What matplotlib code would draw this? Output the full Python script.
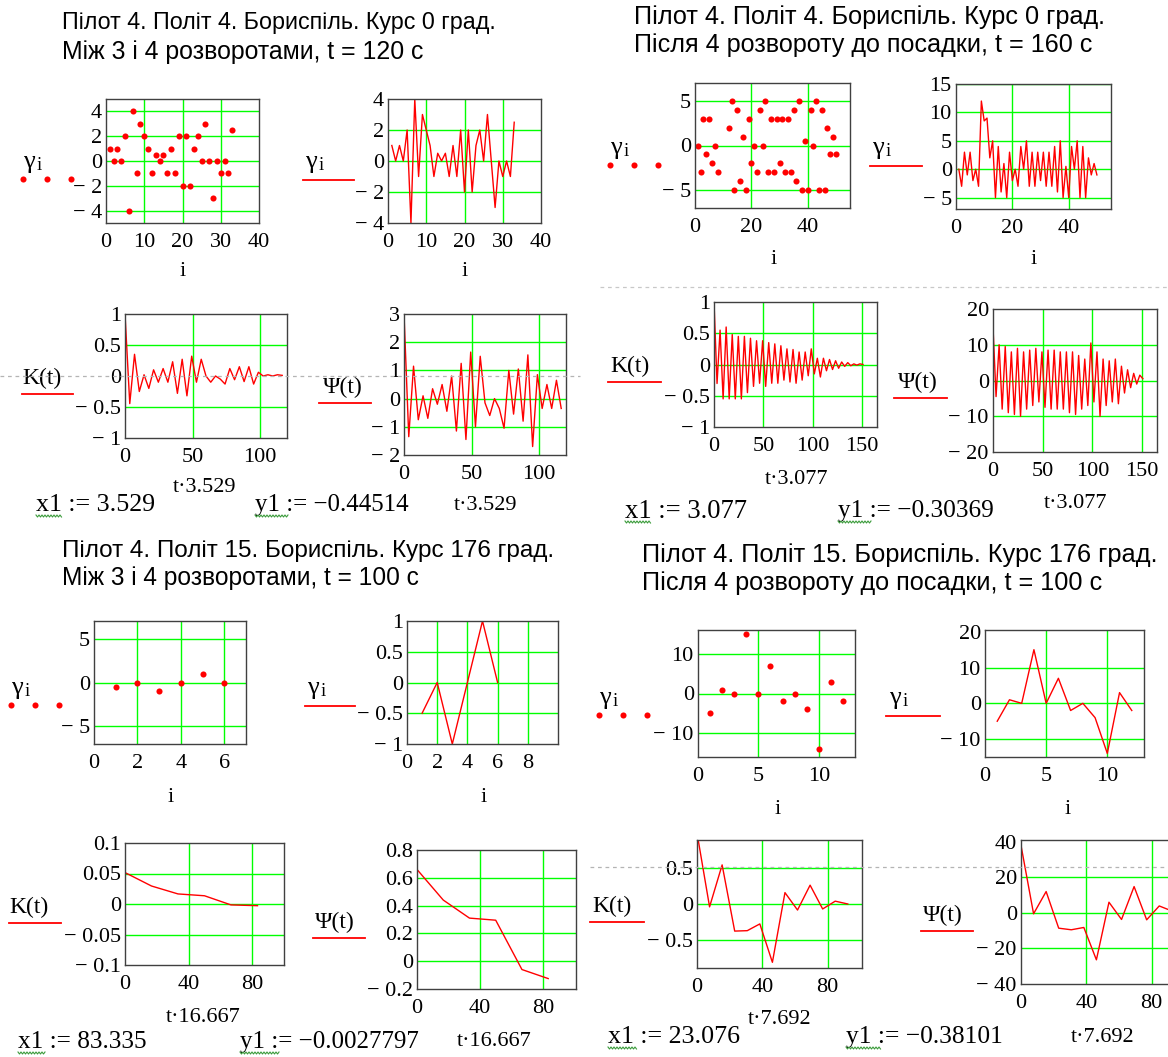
import matplotlib
matplotlib.use("Agg")
import matplotlib.pyplot as plt
from matplotlib.lines import Line2D
import numpy as np

# ---------------- data ----------------
# flight 4, heading 0, between 3rd and 4th turn
gamma_a = [1, 0, 1, 0, 2, -4, 4, -1, 3, 2, 1, -1, 0.5, 0, 0.5, -1, 1, -1, 2, -2,
           2, -2, 1, 2, 0, 3, 0, -3, 0, -1, 0, -1, 2.5]
step_a = 3.529
K_a = [1.0, -0.44514, 0.35, -0.25, 0.02, -0.2, 0.1, -0.1, 0.12, -0.1, 0.23, -0.28,
       0.27, -0.32, 0.32, -0.1, 0.27, 0.0, -0.1, 0.0, -0.05, -0.13, 0.12, -0.06,
       0.15, -0.09, 0.15, -0.13, 0.06, 0.0, 0.02, 0.0, 0.02, 0.01]
Psi_a = [3.0, -1.35, 1.15, -0.75, 0.1, -0.7, 0.35, -0.2, 0.5, -0.45, 0.8, -1.15,
         1.25, -1.45, 1.65, -1.0, 1.5, -0.15, -0.6, 0.0, -0.35, -1.05, 1.0, -0.55,
         1.05, -0.8, 1.55, -1.7, 0.85, -0.35, 0.5, -0.35, 0.65, -0.35]

# flight 4, heading 0, after 4th turn to landing
gamma_b = [0, -3, 3, -1, 3, -2, 0, -3, 12, 8.5, 9, 2, 5, -5, 4, -4, 1, -5, 3, -2,
           0, -3, 4, 0, 5, -3, 3, -3, 3, -2, 3, -3, 3, -3, 4, -4, 5, -5, 0.5, -5,
           4, 0, 5, -5, 4, -5, 2, -1, 1, -1]
step_b = 3.077
K_b = [1.0, -0.30369, 0.55, -0.55, 0.60, -0.55, 0.48, -0.55, 0.45, -0.55,
       0.45, -0.45, 0.42, -0.35, 0.38, -0.30, 0.38, -0.35, 0.35, -0.30,
       0.33, -0.30, 0.30, -0.25, 0.25, -0.28, 0.24, -0.30, 0.20, -0.25,
       0.20, -0.18, 0.25, -0.15, 0.10, -0.20, 0.10, -0.10, 0.08, -0.08,
       0.06, -0.06, 0.04, -0.03, 0.03, -0.02, 0.01, -0.01, 0.01, 0.0]
Psi_b = [15, -4.5, 10, -8, 9.5, -9, 8, -9.5, 9, -10,
         8, -8, 8.5, -7, 9, -6, 8, -7.5, 8.5, -8,
         8.5, -8, 8, -8, 8, -9, 8, -9.5, 7, -8,
         6, -7, 10.5, -6, 8, -10, 6, -7, 5.5, -6,
         6, -6.5, 4, -3.5, 3, -2, 2, -1, 1.5, 0.5]

# flight 15, heading 176, between 3rd and 4th turn
gamma_c = [-0.5, 0, -1, 0, 1, 0]
step_c = 16.667
K_c = [0.0515, 0.0295, 0.0165, 0.0135, -0.0015, -0.0027797]
Psi_c = [0.66, 0.44, 0.31, 0.295, -0.06, -0.125]

# flight 15, heading 176, after 4th turn to landing
gamma_d = [-5, 1, 0, 15, 0, 7, -2, 0, -4, -14, 3, -2]
step_d = 7.692
K_d = [1.0, -0.04, 0.55, -0.38101, -0.375, -0.28, -0.82, 0.16, -0.085, 0.265,
       -0.07, 0.04, 0.0]
Psi_d = [38, -0.5, 12, -8.6, -9.5, -8.2, -26.4, 6, -3.7, 14.8, -3.9, 3.9, 1.1]

titles = [
    ("Пілот 4. Політ 4. Бориспіль. Курс 0 град.", "Між 3 і 4 розворотами, t = 120 с"),
    ("Пілот 4. Політ 4. Бориспіль. Курс 0 град.", "Після 4 розвороту до посадки, t = 160 с"),
    ("Пілот 4. Політ 15. Бориспіль. Курс 176 град.", "Між 3 і 4 розворотами, t = 100 с"),
    ("Пілот 4. Політ 15. Бориспіль. Курс 176 град.", "Після 4 розвороту до посадки, t = 100 с"),
]
x1_vals = ["3.529", "3.077", "83.335", "23.076"]
y1_vals = ["\u22120.44514", "\u22120.30369", "\u22120.0027797", "\u22120.38101"]

# ---------------- figure ----------------
W, H, DPI = 1168, 1057, 100
fig = plt.figure(figsize=(W / DPI, H / DPI), dpi=DPI)
fig.patch.set_facecolor("white")

SERIF = "Liberation Serif"
SANS = "Liberation Sans"
RED = "#ff0000"
GREEN = "#00ff00"
FRAME = "#404040"
TICK_FS = 16


def fx(x):
    return x / W


def fy(y):
    return 1 - y / H


def fmt(v):
    s = "%g" % abs(v)
    return ("\u2212 " + s) if v < 0 else s


def panel(box, xlim, ylim, xticks, yticks, xgrid, ygrid):
    x0, y0, x1, y1 = box
    ax = fig.add_axes([x0 / W, 1 - y1 / H, (x1 - x0) / W, (y1 - y0) / H])
    ax.set_xlim(*xlim)
    ax.set_ylim(*ylim)
    ax.set_xticks(xticks)
    ax.set_xticklabels([fmt(v) for v in xticks], family=SERIF, size=TICK_FS)
    ax.set_yticks(yticks)
    ax.set_yticklabels([fmt(v) for v in yticks], family=SERIF, size=TICK_FS)
    ax.tick_params(axis="x", length=0, pad=7)
    ax.tick_params(axis="y", length=0, pad=3)
    for g in xgrid:
        ax.axvline(g, color=GREEN, lw=1.0, zorder=1)
    for g in ygrid:
        ax.axhline(g, color=GREEN, lw=1.0, zorder=1)
    for s in ax.spines.values():
        s.set_color(FRAME)
        s.set_linewidth(1.0)
        s.set_zorder(3)
    return ax


def scatter_panel(box, data, xlim, ylim, xticks, yticks, xgrid, ygrid):
    ax = panel(box, xlim, ylim, xticks, yticks, xgrid, ygrid)
    i = np.arange(1, len(data) + 1)
    ax.plot(i, data, "o", color=RED, ms=4.4, mec="none", zorder=2)
    return ax


def line_panel(box, data, xlim, ylim, xticks, yticks, xgrid, ygrid, step=None):
    ax = panel(box, xlim, ylim, xticks, yticks, xgrid, ygrid)
    if step is None:
        x = np.arange(1, len(data) + 1)
    else:
        x = np.arange(len(data)) * step
    ax.plot(x, data, "-", color=RED, lw=1.0, zorder=2)
    return ax


def text(x, y, s, size=16, family=SERIF, ha="left", va="center", color="black"):
    return fig.text(fx(x), fy(y), s, family=family, size=size, ha=ha, va=va, color=color)


def hline(x0, x1, y, color=RED, lw=1.3, ls="-", z=5):
    fig.add_artist(Line2D([fx(x0), fx(x1)], [fy(y), fy(y)], color=color, lw=lw,
                          ls=ls, zorder=z))


def gamma_glyph(x, base):
    text(x, base, "\u03b3", size=19, va="baseline")
    text(x + 14, base + 2, "i", size=13.5, va="baseline")


def gamma_scatter_label(x, base):
    gamma_glyph(x, base)
    for dx in (0, 24, 48):
        fig.add_artist(Line2D([fx(x + dx)], [fy(base + 11)], marker="o", ms=4.4,
                              color=RED, mec="none", zorder=5))


def gamma_line_label(x, base, x0, x1):
    gamma_glyph(x, base)
    hline(x0, x1, base + 12)


def func_label(x, base, s, x0, x1):
    text(x, base, s, size=17, va="baseline")
    hline(x0, x1, base + 10)


def wavy(x0, x1, y):
    xs = np.arange(x0, x1 + 0.1, 1.5)
    ys = y + np.where(np.arange(len(xs)) % 2 == 0, -1.0, 1.0)
    fig.add_artist(Line2D(fx(xs), fy(ys), color="#3c9c3c", lw=0.8, zorder=5))


renderer = fig.canvas.get_renderer()


def fit(t, target):
    w = t.get_window_extent(renderer).width
    t.set_fontsize(t.get_fontsize() * target / w)


def assign(x, y, name, val, target):
    t = text(x, y, name + " := " + val, size=17)
    fit(t, target)
    wavy(x, x + 0.22 * target, y + 11)


# ---------------- titles ----------------
title_pos = [((62, 22, 435), (62, 52, 362)),
             ((634, 17, 471), (634, 45, 458)),
             ((62, 551, 494), (62, 578, 358)),
             ((642, 555, 516), (642, 583, 460))]
for (l1, l2), ((xa, ya, wa), (xb, yb, wb)) in zip(titles, title_pos):
    fit(text(xa, ya, l1, size=15, family=SANS), wa)
    fit(text(xb, yb, l2, size=15, family=SANS), wb)

# ---------------- block A ----------------
scatter_panel((106, 99, 259, 223), gamma_a, (0, 40), (-5, 5), [0, 10, 20, 30, 40],
              [4, 2, 0, -2, -4], [10, 20, 30], [-4, -2, 0, 2, 4])
line_panel((388, 99, 541, 223), gamma_a, (0, 40), (-4, 4), [0, 10, 20, 30, 40],
           [4, 2, 0, -2, -4], [10, 20, 30], [-2, 0, 2])
gamma_scatter_label(23, 168)
gamma_line_label(305, 168, 303, 354)
text(183, 272, "i", ha="center")
text(465, 272, "i", ha="center")

line_panel((125, 314, 287, 438), K_a, (0, 120), (-1, 1), [0, 50, 100],
           [1, 0.5, 0, -0.5, -1], [50, 100], [-0.5, 0.5], step=step_a)
line_panel((404, 314, 566, 455), Psi_a, (0, 120), (-2, 3), [0, 50, 100],
           [3, 2, 1, 0, -1, -2], [50, 100], [-1, 0, 1, 2], step=step_a)
func_label(22, 384, "K(t)", 22, 73)
func_label(323, 393, "\u03a8(t)", 319, 371)
text(205, 488, "t\u00b73.529", ha="center")
text(486, 505, "t\u00b73.529", ha="center")
assign(36, 505, "x1", x1_vals[0], 119)
assign(255, 505, "y1", y1_vals[0], 153)
hline(0, 580, 376, color="#b4b4b4", lw=0.9, ls=(0, (3, 3)), z=6)

# ---------------- block B ----------------
scatter_panel((695, 83, 850, 208), gamma_b, (0, 55), (-7, 7), [0, 20, 40],
              [5, 0, -5], [20, 40], [-5, 0, 5])
line_panel((956, 84, 1111, 209), gamma_b, (0, 55), (-7, 15), [0, 20, 40],
           [15, 10, 5, 0, -5], [20, 40], [-5, 0, 5, 10, 15])
gamma_scatter_label(610, 154)
gamma_line_label(872, 154, 870, 922)
text(774, 260, "i", ha="center")
text(1034, 260, "i", ha="center")

line_panel((714, 302, 877, 427), K_b, (0, 165), (-1, 1), [0, 50, 100, 150],
           [1, 0.5, 0, -0.5, -1], [50, 100, 150], [-0.5, 0, 0.5], step=step_b)
line_panel((993, 309, 1157, 452), Psi_b, (0, 165), (-20, 20), [0, 50, 100, 150],
           [20, 10, 0, -10, -20], [50, 100, 150], [-10, 0, 10], step=step_b)
func_label(610, 372, "K(t)", 608, 661)
func_label(898, 388, "\u03a8(t)", 894, 947)
text(797, 480, "t\u00b73.077", ha="center")
text(1076, 503, "t\u00b73.077", ha="center")
assign(625, 511, "x1", x1_vals[1], 122)
assign(838, 511, "y1", y1_vals[1], 155)
hline(600, 1168, 287, color="#c8c8c8", lw=0.9, ls=(0, (3, 3)), z=6)

# ---------------- block C ----------------
scatter_panel((94, 621, 246, 744), gamma_c, (0, 7), (-7, 7), [0, 2, 4, 6],
              [5, 0, -5], [2, 4, 6], [-5, 0, 5])
line_panel((407, 621, 558, 744), gamma_c, (0, 10), (-1, 1), [0, 2, 4, 6, 8],
           [1, 0.5, 0, -0.5, -1], [2, 4, 6, 8], [-0.5, 0, 0.5])
gamma_scatter_label(11, 694)
gamma_line_label(307, 694, 305, 355)
text(171, 797, "i", ha="center")
text(484, 797, "i", ha="center")

line_panel((125, 843, 284, 965), K_c, (0, 100), (-0.1, 0.1), [0, 40, 80],
           [0.1, 0.05, 0, -0.05, -0.1], [40, 80], [-0.05, 0, 0.05], step=step_c)
line_panel((417, 850, 576, 989), Psi_c, (0, 101), (-0.2, 0.8), [0, 40, 80],
           [0.8, 0.6, 0.4, 0.2, 0, -0.2], [40, 80], [0, 0.2, 0.4, 0.6], step=step_c)
func_label(9, 913, "K(t)", 9, 61)
func_label(315, 928, "\u03a8(t)", 313, 365)
text(203, 1017, "t\u00b716.667", ha="center")
text(494, 1042, "t\u00b716.667", ha="center")
assign(18, 1042, "x1", x1_vals[2], 128)
assign(240, 1042, "y1", y1_vals[2], 178)

# ---------------- block D ----------------
scatter_panel((698, 630, 855, 757), gamma_d, (0, 13), (-16, 16), [0, 5, 10],
              [10, 0, -10], [5, 10], [-10, 0, 10])
line_panel((985, 630, 1144, 757), gamma_d, (0, 13), (-15, 20.5), [0, 5, 10],
           [20, 10, 0, -10], [5, 10], [-10, 0, 10])
gamma_scatter_label(599, 704)
gamma_line_label(889, 704, 886, 940)
text(778, 810, "i", ha="center")
text(1068, 810, "i", ha="center")

line_panel((697, 840, 862, 968), K_d, (0, 101), (-0.9, 0.9), [0, 40, 80],
           [0.5, 0, -0.5], [40, 80], [-0.5, 0, 0.5], step=step_d)
line_panel((1021, 840, 1186, 984), Psi_d, (0, 101), (-40, 41), [0, 40, 80],
           [40, 20, 0, -20, -40], [40, 80], [-20, 0, 20], step=step_d)
func_label(592, 912, "K(t)", 590, 644)
func_label(923, 921, "\u03a8(t)", 921, 973)
text(780, 1020, "t\u00b77.692", ha="center")
text(1103, 1037, "t\u00b77.692", ha="center")
assign(608, 1037, "x1", x1_vals[3], 132)
assign(846, 1037, "y1", y1_vals[3], 157)
hline(590, 1168, 867, color="#b4b4b4", lw=0.9, ls=(0, (3, 3)), z=6)

fig.savefig("out.png", dpi=DPI, facecolor="white")
